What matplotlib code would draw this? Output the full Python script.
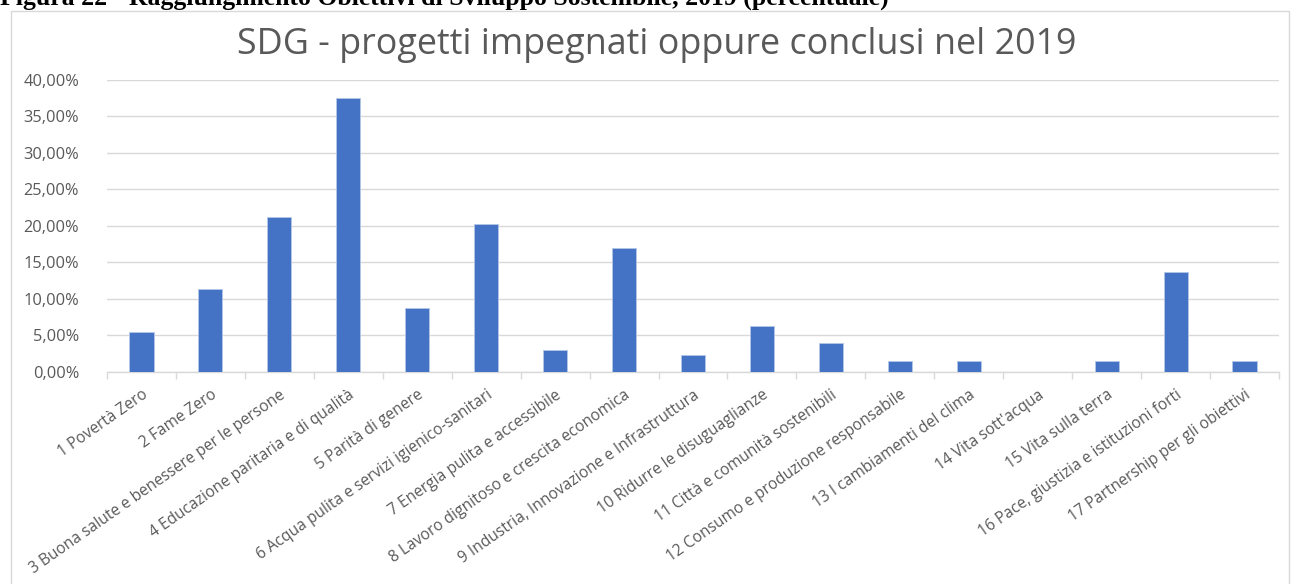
import matplotlib
matplotlib.use("Agg")
import matplotlib.pyplot as plt
from matplotlib.patches import Rectangle
from matplotlib.ticker import FuncFormatter, MultipleLocator

categories = [
    "1 Povertà Zero",
    "2 Fame Zero",
    "3 Buona salute e benessere per le persone",
    "4 Educazione paritaria e di qualità",
    "5 Parità di genere",
    "6 Acqua pulita e servizi igienico-sanitari",
    "7 Energia pulita e accessibile",
    "8 Lavoro dignitoso e crescita economica",
    "9 Industria, Innovazione e Infrastruttura",
    "10 Ridurre le disuguaglianze",
    "11 Città e comunità sostenibili",
    "12 Consumo e produzione responsabile",
    "13 I cambiamenti del clima",
    "14 Vita sott'acqua",
    "15 Vita sulla terra",
    "16 Pace, giustizia e istituzioni forti",
    "17 Partnership per gli obiettivi",
]
values = [5.5, 11.3, 21.2, 37.5, 8.7, 20.3, 3.0, 17.0, 2.3, 6.3, 3.9,
          1.5, 1.5, 0.0, 1.5, 13.7, 1.5]

chart_title = "SDG - progetti impegnati oppure conclusi nel 2019"
header = "Figura 22 - Raggiungimento Obiettivi di Sviluppo Sostenibile, 2019 (percentuale)"

W, H = 1291, 584
fig = plt.figure(figsize=(W / 100, H / 100), dpi=100)

FONT = "Open Sans"
GRAY = "#595959"
GRID = "#d9d9d9"
BLUE = "#4472c4"

# chart frame
fig.patches.append(Rectangle((11 / W, -0.01), (1289 - 11) / W, 1 - 11 / H + 0.01,
                             transform=fig.transFigure, fill=False,
                             edgecolor=GRID, linewidth=1.0))

# document header (partially cut at top, as in the source page)
fig.text(0.0, 1 - 4.5 / H, header, family="Liberation Serif", weight="bold",
         fontsize=18.5, ha="left", va="baseline", color="black")

ax = fig.add_axes([107 / W, 1 - 371.7 / H, (1279 - 107) / W, (371.7 - 80) / H])
x = list(range(len(categories)))
ax.bar(x, values, width=0.35, color=BLUE, edgecolor="#b4c7e7", linewidth=0.6,
       zorder=3)
ax.set_xlim(-0.5, len(categories) - 0.5)
ax.set_ylim(0, 40)
ax.yaxis.set_major_locator(MultipleLocator(5))
ax.yaxis.set_major_formatter(FuncFormatter(lambda v, p: f"{v:.2f}%".replace(".", ",")))
ax.grid(axis="y", color=GRID, linewidth=1.0, zorder=0)
for s in ["top", "right", "left"]:
    ax.spines[s].set_visible(False)
ax.spines["bottom"].set_color(GRID)
ax.spines["bottom"].set_linewidth(1.0)
ax.tick_params(axis="y", length=0, pad=20, labelsize=11.8, labelcolor=GRAY)
for lbl in ax.get_yticklabels():
    lbl.set_family(FONT)

# category boundaries ticks
ax.set_xticks([i - 0.5 for i in range(len(categories) + 1)], minor=True)
ax.tick_params(axis="x", which="minor", length=5, color=GRID, width=1.0, direction="out")
ax.set_xticks(x)
ax.set_xticklabels(categories, rotation=35, ha="right", va="top",
                   rotation_mode="anchor", family=FONT, fontsize=11.2, color=GRAY)
ax.tick_params(axis="x", which="major", length=0, pad=11)

fig.text(657 / W, 1 - 45 / H, chart_title, family=FONT, fontsize=25.8,
         color=GRAY, ha="center", va="center")

fig.savefig("out.png", dpi=100)
